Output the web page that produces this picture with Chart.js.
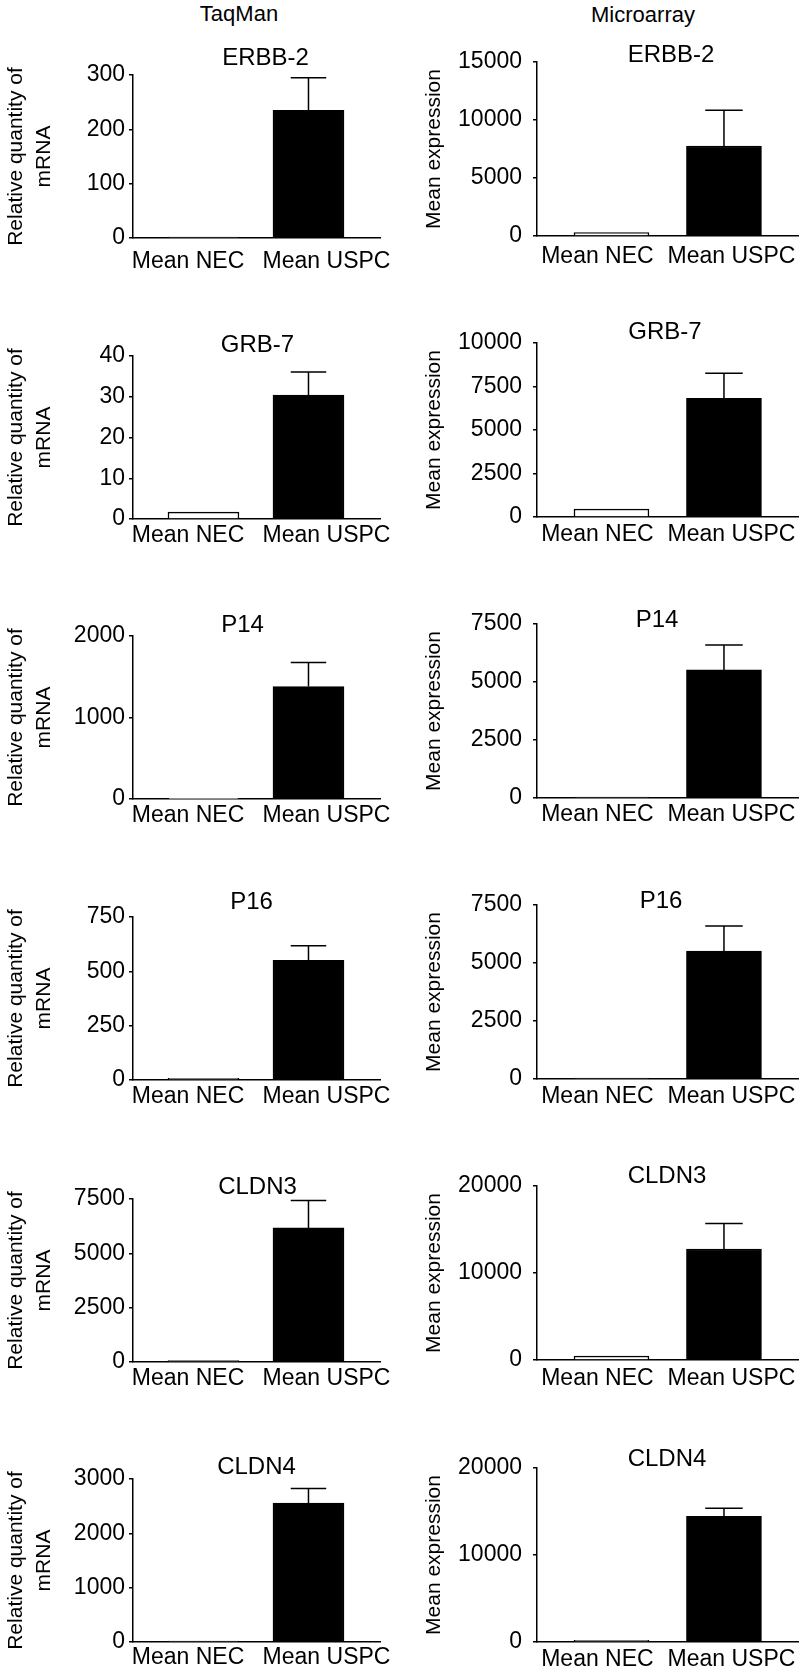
<!DOCTYPE html>
<html>
<head>
<meta charset="utf-8">
<script src="https://cdn.jsdelivr.net/npm/chart.js@4.4.1/dist/chart.umd.min.js"></script>
<style>
  html, body { margin: 0; padding: 0; background: #fff; }
  body { position: relative; width: 799px; height: 1675px; overflow: hidden; font-family: "Liberation Sans", Arial, sans-serif; }
  canvas { position: absolute; }
  .head { position: absolute; font-size: 22px; color: #000; transform: translate(-50%, -50%); white-space: nowrap; }
</style>
</head>
<body>
<div class="head" style="left:239px; top:14px">TaqMan</div>
<div class="head" style="left:643px; top:15px">Microarray</div>
<script>
// Genes, one row of panels each
const genes = ['ERBB-2', 'GRB-7', 'P14', 'P16', 'CLDN3', 'CLDN4'];
const groups = ['Mean NEC', 'Mean USPC'];

// TaqMan: relative quantity of mRNA
const taqNEC = [1.5, 1.7, 4, 8, 60, 15];
const taqUSPC = [235, 30.4, 1380, 551, 6170, 2555];
const taqErr = [60, 5.7, 294, 67, 1260, 268];   // upper error bar on USPC
const taqTicks = [
    [0, 100, 200, 300], [0, 10, 20, 30, 40], [0, 1000, 2000],
    [0, 250, 500, 750], [0, 2500, 5000, 7500], [0, 1000, 2000, 3000]
];

// Microarray: mean expression
const microNEC = [290, 460, 40, 40, 460, 200];
const microUSPC = [7760, 6820, 5520, 5510, 12760, 14450];
const microErr = [3090, 1440, 1080, 1080, 2920, 920];
const microTicks = [
    [0, 5000, 10000, 15000], [0, 2500, 5000, 7500, 10000], [0, 2500, 5000, 7500],
    [0, 2500, 5000, 7500], [0, 10000, 20000], [0, 10000, 20000]
];

const FONT = '"Liberation Sans", Arial, Helvetica, sans-serif';
const TOP = 45;      // room above plot for the gene title
const BOTTOM = 36;   // room below plot for group labels

// Layout of the two columns
const columns = [
    {
        left: 0, width: 400, yWidth: 133, padRight: 20, plotH: 163,
        axisTops: [75, 356, 636, 917, 1199, 1479],
        titleLift: [17, 11, 11, 15, 12, 12],
        titleShift: [9, 1, -14, -5, 1, 0],
        labelGap: [10, 3, 3, 3, 3, 2],
        barWidth: 71, barRange: [0.329, 2.681], labelRange: [0.603, 2.386],
        tickPad: 4,
        yTitle: ['Relative quantity of', 'mRNA'], yTitlePad: 3,
        nec: taqNEC, uspc: taqUSPC, err: taqErr, ticks: taqTicks
    },
    {
        left: 400, width: 399, yWidth: 137, padRight: 0, plotH: 174,
        axisTops: [62, 343, 624, 905, 1186, 1468],
        titleLift: [7, 11, 4, 4, 10, 9],
        titleShift: [3, -3, -11, -7, -1, -1],
        labelGap: [7, 4, 3, 4, 5, 4],
        barWidth: 75, barRange: [0.338, 2.667], labelRange: [0.549, 2.504],
        tickPad: 11,
        yTitle: 'Mean expression', yTitlePad: 21,
        nec: microNEC, uspc: microUSPC, err: microErr, ticks: microTicks
    }
];

Chart.defaults.font.family = FONT;
Chart.defaults.font.size = 23;
Chart.defaults.color = '#000';

// Upper error bars with a cap
const errorBars = {
    id: 'errorBars',
    afterDatasetsDraw(chart, args, opts) {
        const ctx = chart.ctx;
        const y = chart.scales.y;
        const meta = chart.getDatasetMeta(0);
        meta.data.forEach((bar, i) => {
            const e = opts.values[i];
            if (!e) return;
            const top = y.getPixelForValue(chart.data.datasets[0].data[i].y + e);
            const half = bar.width / 4;
            ctx.save();
            ctx.strokeStyle = '#000';
            ctx.lineWidth = 1.5;
            ctx.beginPath();
            ctx.moveTo(bar.x, bar.y);
            ctx.lineTo(bar.x, top);
            ctx.moveTo(bar.x - half, top);
            ctx.lineTo(bar.x + half, top);
            ctx.stroke();
            ctx.restore();
        });
    }
};

// Gene name above the plot area
const panelTitle = {
    id: 'panelTitle',
    afterDraw(chart, args, opts) {
        const a = chart.chartArea;
        const ctx = chart.ctx;
        ctx.save();
        ctx.font = '24px ' + FONT;
        ctx.fillStyle = '#000';
        ctx.textAlign = 'center';
        ctx.textBaseline = 'middle';
        ctx.fillText(opts.text, (a.left + a.right) / 2 + opts.shift, a.top - opts.lift);
        ctx.restore();
    }
};

function makePanel(col, row) {
    const canvas = document.createElement('canvas');
    canvas.width = col.width;
    canvas.height = TOP + col.plotH + BOTTOM;
    canvas.style.left = col.left + 'px';
    canvas.style.top = (col.axisTops[row] - TOP) + 'px';
    document.body.appendChild(canvas);

    const values = [col.nec[row], col.uspc[row]];
    const ticks = col.ticks[row];
    const gap = col.labelGap[row];

    new Chart(canvas, {
        type: 'bar',
        data: {
            datasets: [{
                data: values.map((v, i) => ({ x: i + 1, y: v })),
                xAxisID: 'x',
                yAxisID: 'y',
                backgroundColor: ['#ffffff', '#000000'],
                borderColor: '#000',
                borderWidth: 1.5,
                borderSkipped: 'start',
                barThickness: col.barWidth
            }]
        },
        options: {
            responsive: false,
            animation: false,
            devicePixelRatio: 1,
            layout: { padding: { top: TOP, right: col.padRight, left: 0, bottom: 0 } },
            plugins: {
                legend: { display: false },
                tooltip: { enabled: false },
                errorBars: { values: [0, col.err[row]] },
                panelTitle: { text: genes[row], lift: col.titleLift[row], shift: col.titleShift[row] }
            },
            scales: {
                x: {
                    type: 'linear',
                    position: 'bottom',
                    weight: 0,
                    offset: false,
                    min: col.barRange[0],
                    max: col.barRange[1],
                    grid: { display: false, drawTicks: false },
                    ticks: { display: false },
                    border: { display: true, color: '#000', width: 1.5 },
                    afterFit: s => { s.height = gap; s.paddingLeft = 0; s.paddingRight = 0; }
                },
                xl: {
                    type: 'linear',
                    position: 'bottom',
                    weight: 1,
                    offset: false,
                    min: col.labelRange[0],
                    max: col.labelRange[1],
                    grid: { display: false, drawTicks: false },
                    border: { display: false },
                    afterBuildTicks: s => { s.ticks = groups.map((g, i) => ({ value: i + 1 })); },
                    ticks: {
                        autoSkip: false,
                        maxRotation: 0,
                        padding: 0,
                        callback: v => groups[v - 1]
                    },
                    afterFit: s => { s.height = BOTTOM - gap; s.paddingLeft = 0; s.paddingRight = 0; }
                },
                y: {
                    type: 'linear',
                    min: 0,
                    max: ticks[ticks.length - 1],
                    afterBuildTicks: s => { s.ticks = ticks.map(v => ({ value: v })); },
                    grid: { display: true, drawOnChartArea: false, drawTicks: true, tickLength: 4, color: '#000', lineWidth: 1.5 },
                    border: { display: true, color: '#000', width: 1.5 },
                    ticks: { padding: col.tickPad, callback: v => String(v) },
                    title: {
                        display: true,
                        text: col.yTitle,
                        font: { size: 21, lineHeight: 1.3 },
                        padding: { top: col.yTitlePad, bottom: 0 }
                    },
                    afterFit: s => { s.width = col.yWidth; }
                }
            }
        },
        plugins: [errorBars, panelTitle]
    });
}

columns.forEach(col => {
    genes.forEach((g, row) => makePanel(col, row));
});
</script>
</body>
</html>
